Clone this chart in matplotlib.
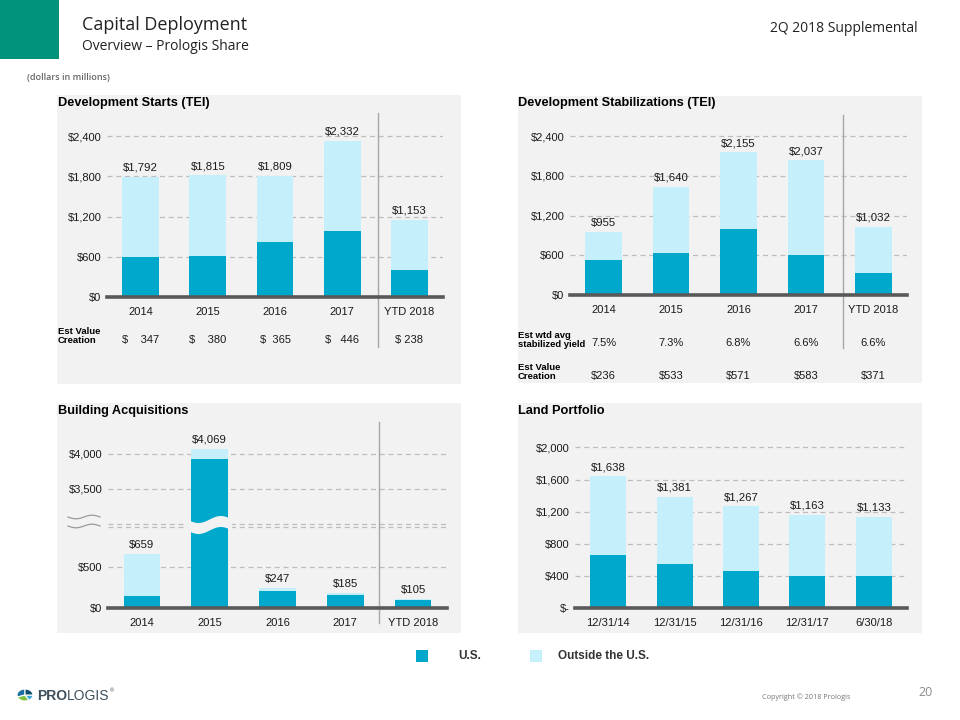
import numpy as np
import matplotlib
matplotlib.use("Agg")
import matplotlib.pyplot as plt
from matplotlib.patches import Rectangle, Polygon, Wedge
from matplotlib.text import Annotation
from matplotlib import transforms

# ---------------- data ----------------
starts_cats = ['2014', '2015', '2016', '2017', 'YTD 2018']
starts_total = [1792, 1815, 1809, 2332, 1153]
starts_us = [595, 610, 820, 985, 398]
starts_outside = [1197, 1205, 989, 1347, 755]
starts_value_creation = ['$    347', '$    380', '$  365', '$   446', '$ 238']

stab_cats = ['2014', '2015', '2016', '2017', 'YTD 2018']
stab_total = [955, 1640, 2155, 2037, 1032]
stab_us = [524, 630, 993, 600, 328]
stab_outside = [431, 1010, 1162, 1437, 704]
stab_yield = ['7.5%', '7.3%', '6.8%', '6.6%', '6.6%']
stab_value_creation = ['$236', '$533', '$571', '$583', '$371']

acq_cats = ['2014', '2015', '2016', '2017', 'YTD 2018']
acq_total = [659, 4069, 247, 185, 105]
acq_us = [146, 3920, 209, 165, 103]
acq_outside = [513, 149, 38, 20, 2]

land_cats = ['12/31/14', '12/31/15', '12/31/16', '12/31/17', '6/30/18']
land_total = [1638, 1381, 1267, 1163, 1133]
land_us = [656, 544, 465, 402, 402]
land_outside = [982, 837, 802, 761, 731]

starts_ticks = [0, 600, 1200, 1800, 2400]
stab_ticks = [0, 600, 1200, 1800, 2400]
acq_ticks = [0, 500, 1000, 3000, 3500, 4000]
acq_ticklabels = ['$0', '$500', '', '', '$3,500', '$4,000']
land_ticks = [0, 400, 800, 1200, 1600, 2000]
land_ticklabels = ['$-', '$400', '$800', '$1,200', '$1,600', '$2,000']

# ---------------- style ----------------
US_C = '#00A9CC'
OUT_C = '#C4EFFB'
PANEL_C = '#F2F2F2'
AXIS_C = '#595959'
GRID_C = '#BDBDBD'
SEP_C = '#A6A6A6'
TXT = '#1A1A1A'
CF = 'Liberation Sans'
LF = 'Liberation Sans'
HF = 'Open Sans'

W, H = 960, 720
fig = plt.figure(figsize=(9.6, 7.2), dpi=100)
fig.patch.set_facecolor('white')


def fx(px):
    return px / W


def fy(py):
    return 1 - py / H


def add_ax(l, t, r, b):
    ax = fig.add_axes([fx(l), fy(b), fx(r - l), (b - t) / H])
    ax.set_zorder(2)
    return ax


def panel(l, t, r, b):
    fig.patches.append(Rectangle((fx(l), fy(b)), fx(r - l), (b - t) / H,
                                 transform=fig.transFigure, facecolor=PANEL_C,
                                 edgecolor='none', zorder=-5))


def ftext(px, py, s, **kw):
    return fig.text(fx(px), fy(py), s, **kw)


# header
fig.patches.append(Rectangle((0, fy(59)), fx(59), 59 / H, transform=fig.transFigure,
                             facecolor='#00937A', edgecolor='none'))
ftext(82, 25, 'Capital Deployment', fontsize=13, family=HF, color='#222222', va='center')
ftext(82, 47, 'Overview \u2013 Prologis Share', fontsize=10, family=HF, color='#222222', va='center')
ftext(918, 28, '2Q 2018 Supplemental', fontsize=10, family=HF, color='#222222', va='center', ha='right')
ftext(27, 78, '(dollars in millions)', fontsize=6.5, family=HF, color='#666666', va='center',
      fontweight='semibold')

# panels
panel(57, 95, 461, 384)
panel(518, 96, 922, 383)
panel(57, 403, 461, 633)
panel(518, 403, 922, 633)

TKW = dict(fontsize=9.2, family=LF, fontweight='bold', color='black', va='center')
ftext(58, 103, 'Development Starts (TEI)', **TKW)
ftext(518, 103, 'Development Stabilizations (TEI)', **TKW)
ftext(58, 411, 'Building Acquisitions', **TKW)
ftext(518, 411, 'Land Portfolio', **TKW)


def style_ax(ax, ticks, labels):
    ax.set_facecolor('none')
    for s in ['top', 'right', 'left']:
        ax.spines[s].set_visible(False)
    ax.spines['bottom'].set_color(AXIS_C)
    ax.spines['bottom'].set_linewidth(2.6)
    ax.spines['bottom'].set_zorder(5)
    ax.set_yticks(ticks)
    ax.set_yticklabels(labels)
    ax.tick_params(axis='both', length=0, labelsize=8, labelcolor=TXT, pad=4)
    ax.tick_params(axis='x', pad=7)
    for lab in ax.get_xticklabels() + ax.get_yticklabels():
        lab.set_family(CF)
    ax.yaxis.grid(True, linestyle=(0, (4, 3)), color=GRID_C, linewidth=0.9)
    ax.set_axisbelow(True)
    ax.set_xlim(-0.5, 4.5)


def bars(ax, cats, us, out, totals, width=0.545):
    x = np.arange(len(cats))
    ax.bar(x, us, width, color=US_C, zorder=3)
    ax.bar(x, out, width, bottom=us, color=OUT_C, zorder=3)
    for xi, t in zip(x, totals):
        ax.annotate('${:,}'.format(t), (xi, t), xytext=(0, 3), textcoords='offset points',
                    ha='center', va='bottom', fontsize=8.2, family=CF, color=TXT)
    ax.set_xticks(x)
    ax.set_xticklabels(cats)
    return x


def row(ax, x, py, texts, **kw):
    tr = transforms.blended_transform_factory(ax.transData, fig.transFigure)
    for xi, s in zip(x, texts):
        ax.text(xi, fy(py), s, transform=tr, ha='center', va='center', fontsize=8,
                family=CF, color=TXT, **kw)


def separator(ax, pos, top, bottom):
    tr = transforms.blended_transform_factory(ax.transData, fig.transFigure)
    ax.plot([pos, pos], [fy(top), fy(bottom)], transform=tr, color=SEP_C, lw=1.0,
            clip_on=False, zorder=2)


# ---- Development Starts ----
ax1 = add_ax(107, 120, 443, 297)
ax1.set_ylim(0, 2643)
x1 = bars(ax1, starts_cats, starts_us, starts_outside, starts_total)
style_ax(ax1, starts_ticks, ['${:,}'.format(t) for t in starts_ticks])
separator(ax1, 3.54, 113, 347)
row(ax1, x1, 340, starts_value_creation)
ftext(58, 336, 'Est Value\nCreation', fontsize=6.8, family=LF, fontweight='bold', va='center',
      linespacing=1.0, color='black')

# ---- Development Stabilizations ----
ax2 = add_ax(570, 120, 907, 295)
ax2.set_ylim(0, 2646)
x2 = bars(ax2, stab_cats, stab_us, stab_outside, stab_total)
style_ax(ax2, stab_ticks, ['${:,}'.format(t) for t in stab_ticks])
separator(ax2, 3.55, 115, 348)
row(ax2, x2, 343, stab_yield)
row(ax2, x2, 376, stab_value_creation)
ftext(518, 340, 'Est wtd avg\nstabilized yield', fontsize=6.8, family=LF, fontweight='bold',
      va='center', linespacing=1.0, color='black')
ftext(518, 372, 'Est Value\nCreation', fontsize=6.8, family=LF, fontweight='bold', va='center',
      linespacing=1.0, color='black')

# ---- Building Acquisitions (broken axis via piecewise scale) ----
bp_v = np.array([-1e5, 0, 1000, 3000, 1e5])
bp_s = np.array([-1e5 * 0.0815, 0, 81.5, 84.5, 84.5 + 97000 * 0.07])


def fwd(v):
    return np.interp(v, bp_v, bp_s)


def inv(s):
    return np.interp(s, bp_s, bp_v)


ax3 = add_ax(108, 429, 447, 608)
ax3.set_yscale('function', functions=(fwd, inv))
ax3.set_ylim(0, 4350)
x3 = bars(ax3, acq_cats, acq_us, acq_outside, acq_total, width=0.54)
style_ax(ax3, acq_ticks, acq_ticklabels)
ax3.yaxis.set_minor_locator(matplotlib.ticker.NullLocator())
separator(ax3, 3.5, 422, 623)

# wavy break across the 2015 bar
s_top = fwd(4350)
tr3 = transforms.blended_transform_factory(ax3.transData, ax3.transAxes)
xx = np.linspace(1 - 0.33, 1 + 0.33, 60)
mid = 83.0 + 3.5 * np.sin((xx - 1) / 0.66 * 2 * np.pi)
upper = (mid + 5.5) / s_top
lower = (mid - 5.5) / s_top
poly = np.vstack([np.column_stack([xx, upper]), np.column_stack([xx[::-1], lower[::-1]])])
ax3.add_patch(Polygon(poly, closed=True, transform=tr3, facecolor=PANEL_C, edgecolor='none', zorder=4))

# axis break marks on the y axis
for py in (517, 526):
    wx = np.linspace(68, 100, 40)
    wy = py + 1.8 * np.sin((wx - 68) / 32 * 2 * np.pi)
    fig.lines.append(plt.Line2D(fx(wx), fy(wy), transform=fig.transFigure, color='#9A9A9A', lw=0.9))

# ---- Land Portfolio ----
ax4 = add_ax(575, 430, 907, 608)
ax4.set_ylim(0, 2217)
x4 = bars(ax4, land_cats, land_us, land_outside, land_total, width=0.54)
style_ax(ax4, land_ticks, land_ticklabels)

# ---- legend ----
fig.patches.append(Rectangle((fx(416), fy(662)), fx(12), 12 / H, transform=fig.transFigure,
                             facecolor=US_C, edgecolor='none'))
ftext(458, 656, 'U.S.', fontsize=8.5, family=LF, fontweight='bold', color='#333333', va='center')
fig.patches.append(Rectangle((fx(530), fy(662)), fx(12), 12 / H, transform=fig.transFigure,
                             facecolor=OUT_C, edgecolor='none'))
ftext(558, 656, 'Outside the U.S.', fontsize=8.5, family=LF, fontweight='bold', color='#333333', va='center')

# ---- footer ----
cx, cy, r = 25, 695, 8
for th1, th2, col in [(90, 200, '#1D6FA3'), (200, 300, '#7FC241'), (300, 360, '#3FA9D6'), (0, 90, '#0B4F6C')]:
    w = Wedge((fx(cx), fy(cy)), r / W, th1, th2, transform=fig.transFigure,
              facecolor=col, edgecolor='white', lw=0.8)
    fig.patches.append(w)
t_pro = ftext(37, 696, 'PRO', fontsize=10, family=LF, fontweight='bold', color='#3D4F5C', va='center')
ann = Annotation('LOGIS', xy=(1.0, 0.5), xycoords=t_pro, va='center', ha='left',
                 fontsize=10, family=LF, color='#3D4F5C')
fig.add_artist(ann)
ann2 = Annotation('\u00ae', xy=(1.0, 0.9), xycoords=ann, va='center', ha='left',
                  fontsize=4, family=LF, color='#3D4F5C')
fig.add_artist(ann2)
ftext(762, 697, 'Copyright \u00a9 2018 Prologis', fontsize=5.2, family=HF, color='#777777', va='center')
ftext(918, 693, '20', fontsize=9, family=HF, color='#8C8C8C', va='center')

fig.savefig('out.png', dpi=100)
